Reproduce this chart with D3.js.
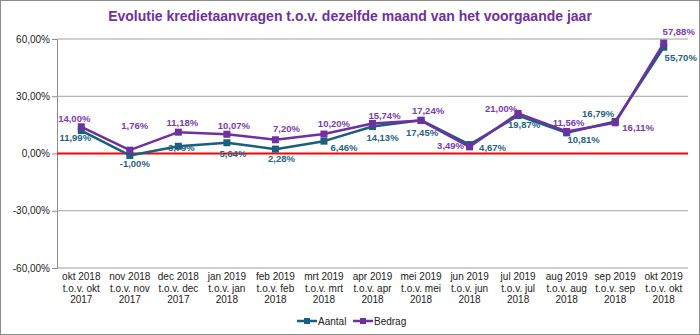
<!DOCTYPE html>
<html>
<head>
<meta charset="utf-8">
<script src="https://cdn.jsdelivr.net/npm/d3@7"></script>
<style>
  body { margin: 0; background: #fff; }
  svg { display: block; font-family: "Liberation Sans", Arial, sans-serif; }
</style>
</head>
<body>
<div id="chart"><svg></svg></div>
<script>
const months = [
  ["okt 2018", "t.o.v. okt", "2017"],
  ["nov 2018", "t.o.v. nov", "2017"],
  ["dec 2018", "t.o.v. dec", "2017"],
  ["jan 2019", "t.o.v. jan", "2018"],
  ["feb 2019", "t.o.v. feb", "2018"],
  ["mrt 2019", "t.o.v. mrt", "2018"],
  ["apr 2019", "t.o.v. apr", "2018"],
  ["mei 2019", "t.o.v. mei", "2018"],
  ["jun 2019", "t.o.v. jun", "2018"],
  ["jul 2019", "t.o.v. jul", "2018"],
  ["aug 2019", "t.o.v. aug", "2018"],
  ["sep 2019", "t.o.v. sep", "2018"],
  ["okt 2019", "t.o.v. okt", "2018"]
];
const aantal = [11.99, -1.00, 3.79, 5.64, 2.28, 6.46, 14.13, 17.45, 4.67, 19.87, 10.81, 16.79, 55.70];
const bedrag = [14.00, 1.76, 11.18, 10.07, 7.20, 10.20, 15.74, 17.24, 3.49, 21.00, 11.56, 16.11, 57.88];
const yTicks = [-60, -30, 0, 30, 60];

// label nudges (px) relative to each marker, as Excel placed them
const aantalNudge = [[-6,7],[5,8],[3,1],[6,11],[6,10],[20,7],[10,11],[1,12],[23,3],[6,9],[17,7],[-17,-8],[17,10]];
const bedragNudge = [[-7,-8],[5,-24],[4,-9],[7,-9],[11,-11],[10,-10],[12,-8],[7,-10],[-19,-1],[-17,-5],[2,-9],[23,5],[15,-11]];

const W = 700, H = 335;
const m = { left: 57, right: 12, top: 39, bottom: 67 };
const teal = "#18607e", purple = "#7030a0";

const svg = d3.select("#chart svg").attr("width", W).attr("height", H);

svg.append("rect")
  .attr("x", 0.5).attr("y", 0.5)
  .attr("width", W - 1).attr("height", H - 1)
  .attr("fill", "#fff").attr("stroke", "#8c8c8c");

svg.append("text")
  .attr("x", 350).attr("y", 21)
  .attr("text-anchor", "middle")
  .attr("font-size", 14).attr("font-weight", "bold")
  .attr("fill", purple)
  .text("Evolutie kredietaanvragen t.o.v. dezelfde maand van het voorgaande jaar");

const x = d3.scaleBand()
  .domain(months.map((d, i) => i))
  .range([m.left, W - m.right]);

const y = d3.scaleLinear()
  .domain([-60, 60])
  .range([H - m.bottom, m.top]);

const fmt = v => d3.format(".2f")(v).replace(".", ",").replace("\u2212", "-") + "%";

// y axis with gridlines
const yAxis = svg.append("g")
  .attr("transform", `translate(${m.left},0)`)
  .call(d3.axisLeft(y).tickValues(yTicks).tickSize(5).tickFormat(fmt));
yAxis.select(".domain").attr("stroke", "#8c8c8c");
yAxis.selectAll(".tick line").attr("stroke", "#8c8c8c");
yAxis.selectAll(".tick text")
  .attr("font-size", 10).attr("fill", "#222")
  .attr("font-family", "Liberation Sans, Arial, sans-serif")
  .attr("x", -7);

svg.append("g").selectAll("line")
  .data(yTicks.filter(t => t !== 0))
  .join("line")
  .attr("x1", m.left).attr("x2", W - m.right)
  .attr("y1", d => y(d)).attr("y2", d => y(d))
  .attr("stroke", "#a0a0a0").attr("stroke-width", 1);

// category labels
const xl = svg.append("g");
months.forEach((lines, i) => {
  const t = xl.append("text")
    .attr("x", x(i) + x.bandwidth() / 2)
    .attr("y", y(-60) + 12)
    .attr("text-anchor", "middle")
    .attr("font-size", 10).attr("fill", "#222");
  lines.forEach((s, j) => {
    t.append("tspan")
      .attr("x", x(i) + x.bandwidth() / 2)
      .attr("dy", j === 0 ? 0 : 11.5)
      .text(s);
  });
});

// zero line
svg.append("line")
  .attr("x1", m.left).attr("x2", W - m.right)
  .attr("y1", y(0)).attr("y2", y(0))
  .attr("stroke", "#ff0000").attr("stroke-width", 2);

const cx = i => x(i) + x.bandwidth() / 2;
const line = d3.line().x((d, i) => cx(i)).y(d => y(d));

function series(values, color) {
  const g = svg.append("g");
  g.append("path")
    .datum(values)
    .attr("d", line)
    .attr("fill", "none")
    .attr("stroke", color).attr("stroke-width", 2.5)
    .attr("stroke-linejoin", "round");
  g.selectAll("rect")
    .data(values)
    .join("rect")
    .attr("x", (d, i) => cx(i) - 3.5)
    .attr("y", d => y(d) - 3.5)
    .attr("width", 7).attr("height", 7)
    .attr("fill", color);
  return g;
}

function labels(values, color, nudge) {
  svg.append("g").selectAll("text")
    .data(values)
    .join("text")
    .attr("x", (d, i) => cx(i) + nudge[i][0])
    .attr("y", (d, i) => y(d) + nudge[i][1])
    .attr("dy", "0.35em")
    .attr("text-anchor", "middle")
    .attr("font-size", 9.5).attr("font-weight", "bold")
    .attr("fill", color)
    .text(fmt);
}

series(aantal, teal);
series(bedrag, purple);
labels(aantal, "#1f6485", aantalNudge);
labels(bedrag, "#7a3bb0", bedragNudge);

// legend
const legend = [["Aantal", teal, 297], ["Bedrag", purple, 353]];
legend.forEach(([name, color, lx]) => {
  const ly = 321;
  svg.append("line")
    .attr("x1", lx).attr("x2", lx + 20)
    .attr("y1", ly).attr("y2", ly)
    .attr("stroke", color).attr("stroke-width", 2.5);
  svg.append("rect")
    .attr("x", lx + 7).attr("y", ly - 3)
    .attr("width", 6).attr("height", 6)
    .attr("fill", color);
  svg.append("text")
    .attr("x", lx + 21).attr("y", ly)
    .attr("dy", "0.35em")
    .attr("font-size", 10).attr("fill", "#222")
    .text(name);
});
</script>
</body>
</html>
